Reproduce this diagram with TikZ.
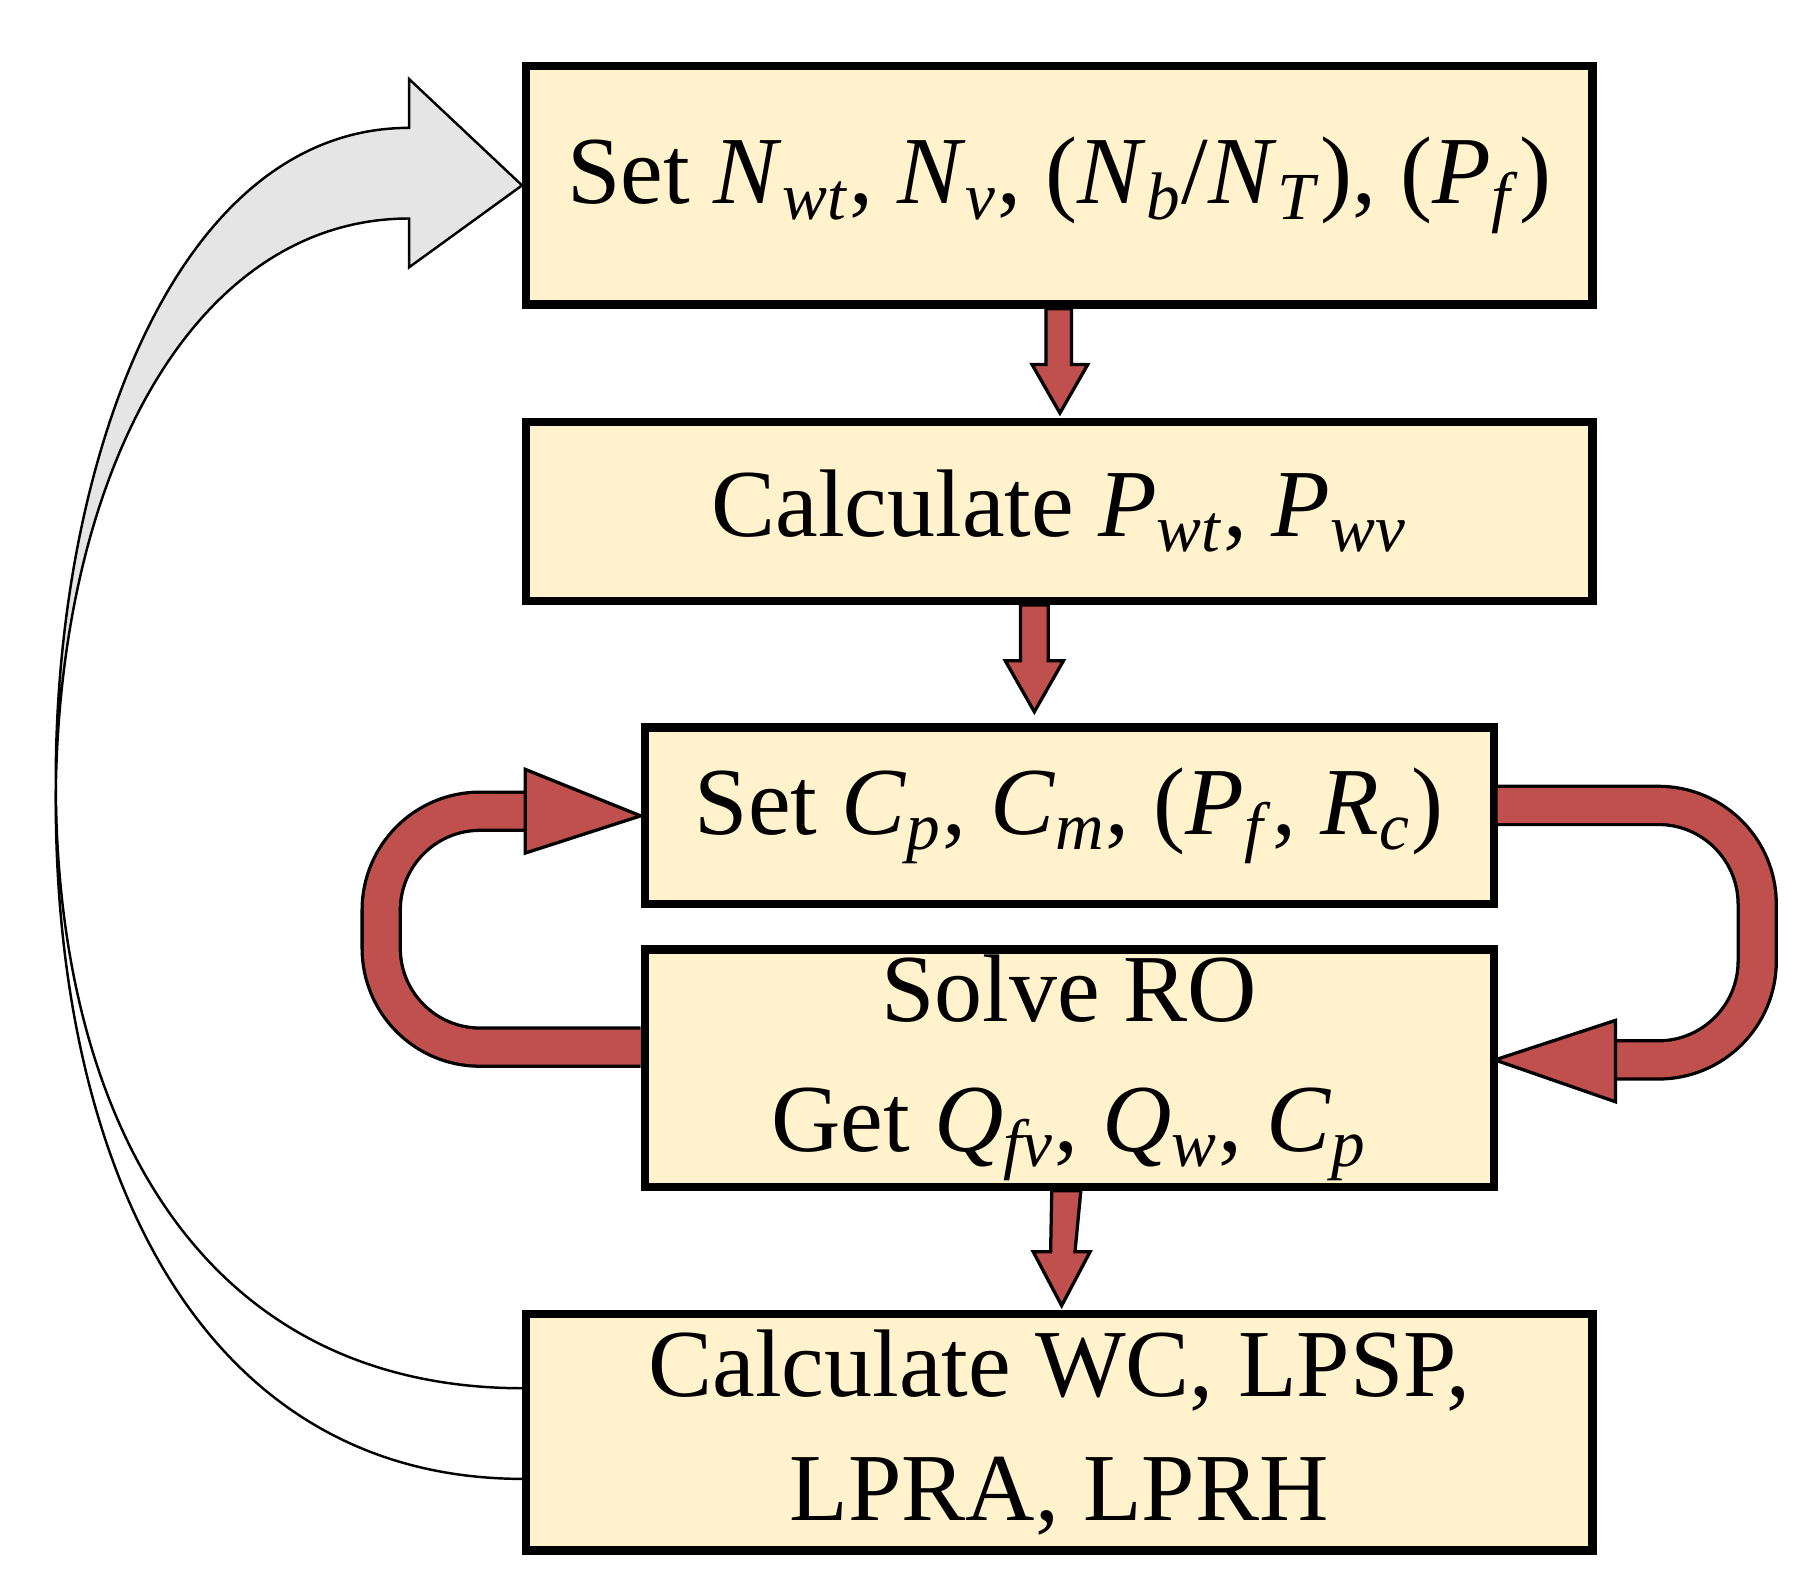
\documentclass[tikz,border=0pt]{standalone}
\usepackage{fontspec}
\setmainfont{Liberation Serif}
\usetikzlibrary{calc}
\newcommand{\vsym}[2]{\textit{#1}\textsubscript{\textit{#2}}}
\tikzset{
  box/.style={draw=black, line width=2pt, fill=boxfill, inner sep=0pt,
    font=\fontsize{23.5}{29}\selectfont, align=center},
  band/.style={draw=black, line width=0.8pt, double=arrowred, double distance=0.30cm},
  blockred/.style={draw=black, line width=0.8pt, fill=arrowred, line join=miter},
}
\definecolor{boxfill}{HTML}{FFF2CC}
\definecolor{arrowred}{HTML}{C0504D}
\begin{document}
\begin{tikzpicture}[x=0.01cm, y=-0.01cm]
    \useasboundingbox (0,0) rectangle (1560,1372);

                % Boxes
                \node (set) [box, minimum width=9.17cm, minimum height=2.05cm] at (911.5,159.5)
                  {Set \vsym{N}{wt}, \vsym{N}{v}, (\vsym{N}{b}/\vsym{N}{T}), (\vsym{P}{f})};
                \node (calc) [box, minimum width=9.17cm, minimum height=1.54cm] at (911.5,440)
                  {Calculate \vsym{P}{wt}, \vsym{P}{wv}};
                \node (setc) [box, minimum width=7.30cm, minimum height=1.52cm] at (920,702)
                  {Set \vsym{C}{p}, \vsym{C}{m}, (\vsym{P}{f}, \vsym{R}{c})};
                \node (solve) [box, minimum width=7.30cm, minimum height=2.04cm] at (920,919)
                  {Solve RO\\[0.1cm]Get \vsym{Q}{fv}, \vsym{Q}{w}, \vsym{C}{p}};
                \node (result) [box, minimum width=9.17cm, minimum height=2.03cm] at (911.5,1232.5)
                  {Calculate WC, LPSP,\\[0.05cm]LPRA, LPRH};

                % Feedback loop (grey)
                \draw[black, line width=0.6pt, fill=gray!20]
                  (48,680) .. controls (46,400) and (150,110) .. (352,110) -- (352,68)
                  -- (set.west) -- (352,230) -- (352,188)
                  .. controls (170,188) and (52,400) .. (48,680);
                \draw[black, line width=0.6pt]
                  ($(result.west)+(0,-38)$) .. controls (170,1194) and (50,960) .. (48,680);
                \draw[black, line width=0.6pt]
                  ($(result.west)+(0,40)$) .. controls (170,1272) and (46,1000) .. (48,680);

                % Down arrows
                \draw[blockred] ($(set.south)+(-11.5,0)$) -- ++(0,48) -- ++(-12,0)
                  -- ($(calc.north)+(0.5,-4)$) -- ($(set.south)+(24.5,48)$) -- ++(-14,0) -- ++(0,-48) -- cycle;
                \draw[blockred] ($(calc.south)+(-33.5,0)$) -- ++(0,48) -- ++(-13,0)
                  -- ($(setc.north)+(-30,-10)$) -- ($(calc.south)+(3.5,48)$) -- ++(-13,0) -- ++(0,-48) -- cycle;
                \draw[blockred] ($(solve.south)+(-15,0)$) -- (904,1077) -- (889,1077)
                  -- ($(result.north)+(2,-4)$) -- (938,1077) -- (925,1077) -- ($(solve.south)+(10,0)$) -- cycle;

                % Inner loop (red bands)
                \draw[band, rounded corners=0.85cm] ($(solve.west)+(0,-18)$) -- (328,901) -- (328,698) -- (454,698);
                \draw[blockred] (452,683) -- (452,662) -- (setc.west) -- (452,734) -- (452,713) -- cycle;
                \draw[band, rounded corners=0.85cm] ($(setc.east)+(0,-9)$) -- (1512,693) -- (1512,912) -- (1388,912);
                \draw[blockred] (1390,897) -- (1390,878) -- ($(solve.west)+(735,-7)$) -- (1390,948) -- (1390,927) -- cycle;

            \end{tikzpicture}
\end{document}
